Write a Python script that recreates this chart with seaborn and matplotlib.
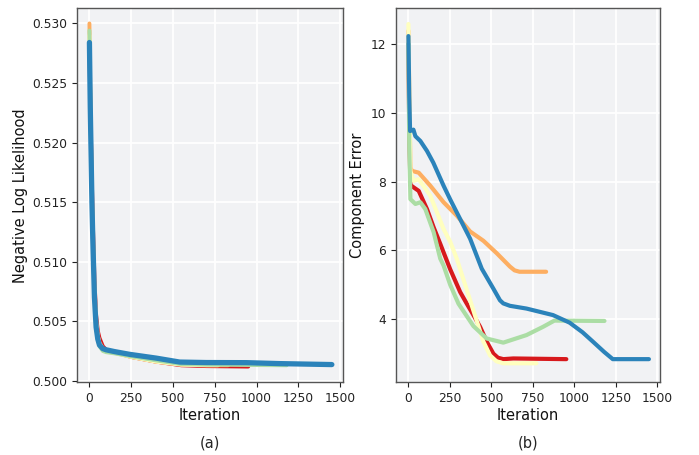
import numpy as np
import pandas as pd
import matplotlib
matplotlib.use("Agg")
import matplotlib.pyplot as plt
import seaborn as sns

# ---------------- data ----------------
series_names = ["red", "orange", "yellow", "green", "blue"]
series_colors = ["#d7191c", "#fdae61", "#ffffbf", "#abdda4", "#2b83ba"]

# (a) Negative log likelihood
nll_red_x = [0, 5, 10, 15, 20, 30, 40, 50, 60, 80, 100, 150, 250, 400, 550, 700, 950]
nll_red_y = [0.5280, 0.5235, 0.5200, 0.5165, 0.5135, 0.5085, 0.5055, 0.5042, 0.5036, 0.5029, 0.5026, 0.5024, 0.5020, 0.5016, 0.5013, 0.50123, 0.50119]
nll_orange_x = [0, 5, 10, 15, 20, 30, 40, 50, 60, 80, 100, 150, 250, 400, 550, 700, 830]
nll_orange_y = [0.5300, 0.5240, 0.5195, 0.5155, 0.5125, 0.5075, 0.5048, 0.5037, 0.5031, 0.5027, 0.5025, 0.50235, 0.5020, 0.5016, 0.50135, 0.5013, 0.5013]
nll_yellow_x = [0, 5, 10, 15, 20, 30, 40, 50, 60, 80, 100, 150, 250, 400, 550, 700, 770]
nll_yellow_y = [0.5290, 0.5235, 0.5195, 0.5158, 0.5128, 0.5078, 0.5050, 0.5038, 0.5032, 0.5027, 0.5025, 0.50235, 0.5020, 0.5016, 0.50135, 0.5013, 0.5013]
nll_green_x = [0, 5, 10, 15, 20, 30, 40, 50, 60, 80, 100, 150, 250, 400, 550, 700, 900, 1180]
nll_green_y = [0.5294, 0.5236, 0.5193, 0.5153, 0.5122, 0.5072, 0.5046, 0.5035, 0.5029, 0.5025, 0.5024, 0.5023, 0.50205, 0.5017, 0.5014, 0.50135, 0.50133, 0.50130]
nll_blue_x = [0, 5, 10, 15, 20, 30, 40, 50, 60, 80, 100, 150, 240, 400, 540, 700, 940, 1140, 1450]
nll_blue_y = [0.5284, 0.5230, 0.5190, 0.5150, 0.5120, 0.5070, 0.5045, 0.5035, 0.5030, 0.5027, 0.5026, 0.50245, 0.50222, 0.5019, 0.50157, 0.50153, 0.50152, 0.50144, 0.50136]

# (b) Component error
ce_red_x = [0, 5, 12, 32, 62, 112, 152, 192, 252, 312, 352, 392, 432, 472, 512, 540, 572, 632, 952]
ce_red_y = [12.0, 9.5, 7.9, 7.83, 7.73, 7.20, 6.67, 6.19, 5.45, 4.79, 4.45, 4.12, 3.78, 3.35, 3.00, 2.88, 2.84, 2.86, 2.84]
ce_orange_x = [0, 5, 12, 22, 62, 132, 212, 292, 372, 452, 532, 612, 640, 670, 830]
ce_orange_y = [12.38, 10.5, 8.4, 8.31, 8.26, 7.88, 7.40, 7.01, 6.55, 6.28, 5.92, 5.53, 5.42, 5.38, 5.38]
ce_yellow_x = [0, 5, 12, 32, 62, 132, 212, 252, 292, 332, 372, 412, 452, 492, 530, 572, 772]
ce_yellow_y = [12.58, 10.5, 8.3, 8.02, 8.07, 7.59, 6.62, 6.25, 5.75, 5.15, 4.55, 3.95, 3.35, 2.95, 2.78, 2.72, 2.72]
ce_green_x = [0, 5, 12, 42, 72, 102, 152, 192, 212, 252, 302, 392, 472, 572, 712, 812, 880, 1182]
ce_green_y = [12.0, 9.0, 7.49, 7.35, 7.40, 7.20, 6.53, 5.76, 5.56, 5.0, 4.45, 3.80, 3.44, 3.32, 3.54, 3.78, 3.96, 3.95]
ce_blue_x = [0, 5, 10, 30, 42, 72, 112, 150, 212, 252, 312, 372, 442, 512, 552, 572, 612, 712, 872, 972, 1050, 1112, 1180, 1232, 1260, 1450]
ce_blue_y = [12.23, 10.5, 9.47, 9.51, 9.32, 9.18, 8.89, 8.55, 7.88, 7.48, 6.91, 6.34, 5.47, 4.89, 4.55, 4.46, 4.39, 4.31, 4.12, 3.90, 3.62, 3.35, 3.05, 2.84, 2.84, 2.84]

nll_x = [nll_red_x, nll_orange_x, nll_yellow_x, nll_green_x, nll_blue_x]
nll_y = [nll_red_y, nll_orange_y, nll_yellow_y, nll_green_y, nll_blue_y]
ce_x = [ce_red_x, ce_orange_x, ce_yellow_x, ce_green_x, ce_blue_x]
ce_y = [ce_red_y, ce_orange_y, ce_yellow_y, ce_green_y, ce_blue_y]

x_ticks = [0, 250, 500, 750, 1000, 1250, 1500]
nll_ticks = [0.500, 0.505, 0.510, 0.515, 0.520, 0.525, 0.530]
ce_ticks = [4, 6, 8, 10, 12]

# ---------------- style ----------------
sns.set_theme(style="darkgrid", rc={
    "axes.facecolor": "#f1f2f4",
    "axes.edgecolor": "#555555",
    "axes.linewidth": 1.0,
    "grid.color": "white",
    "grid.linewidth": 1.3,
    "xtick.bottom": True,
    "ytick.left": True,
    "xtick.color": "#222222",
    "ytick.color": "#222222",
    "xtick.major.size": 3.5,
    "ytick.major.size": 3.5,
    "xtick.major.width": 0.8,
    "ytick.major.width": 0.8,
    "xtick.labelsize": 8.8,
    "ytick.labelsize": 8.8,
    "axes.labelsize": 10.5,
    "axes.labelcolor": "#111111",
})
plt.rcParams["font.family"] = ["DejaVu Sans"]

fig = plt.figure(figsize=(6.99, 4.55), dpi=100)
ax1 = fig.add_axes([0.110, 0.160, 0.381, 0.822])
ax2 = fig.add_axes([0.5665, 0.160, 0.378, 0.822])

for i, name in enumerate(series_names):
    df = pd.DataFrame({"Iteration": nll_x[i], "value": nll_y[i]})
    sns.lineplot(data=df, x="Iteration", y="value", ax=ax1, color=series_colors[i],
                 linewidth=3.8 if name == "blue" else 2.8, estimator=None, sort=False)
for i, name in enumerate(series_names):
    df = pd.DataFrame({"Iteration": ce_x[i], "value": ce_y[i]})
    sns.lineplot(data=df, x="Iteration", y="value", ax=ax2, color=series_colors[i],
                 linewidth=3.0, estimator=None, sort=False)

for ax in (ax1, ax2):
    ax.set_xticks(x_ticks)
    ax.set_xlim(-75, 1518)
    ax.set_xlabel("Iteration", labelpad=2)
    for s in ax.spines.values():
        s.set_visible(True)
        s.set_color("#555555")

ax1.set_yticks(nll_ticks)
ax1.set_yticklabels([f"{t:.3f}" for t in nll_ticks])
ax1.set_ylim(0.49988, 0.53128)
ax1.set_ylabel("Negative Log Likelihood", labelpad=3)

ax2.set_yticks(ce_ticks)
ax2.set_ylim(2.17, 13.04)
ax2.set_ylabel("Component Error", labelpad=4)

ax1.text(0.5, -0.163, "(a)", transform=ax1.transAxes, ha="center", va="center", fontsize=10.5)
ax2.text(0.5, -0.163, "(b)", transform=ax2.transAxes, ha="center", va="center", fontsize=10.5)

fig.savefig("out.png", dpi=100)
